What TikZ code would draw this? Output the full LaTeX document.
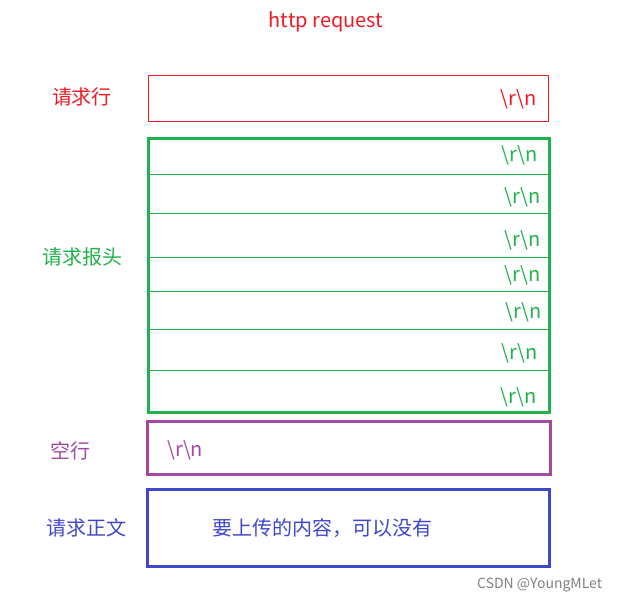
\documentclass[tikz,border=0pt]{standalone}
\usepackage{fontspec}
\setmainfont{Noto Sans CJK SC}
\usetikzlibrary{positioning}
\definecolor{reqred}{RGB}{237,28,36}
\definecolor{hdrgreen}{RGB}{34,177,76}
\definecolor{blankpurple}{RGB}{163,73,164}
\definecolor{bodyblue}{RGB}{63,72,204}
\newcommand\CRLF{\textbackslash r\textbackslash n}
\begin{document}
\begin{tikzpicture}[x=1pt,y=-1pt,
  lbl/.style={font=\fontsize{20}{24}\selectfont,inner sep=0pt},
  crlf/.style={lbl,anchor=east}]
  \useasboundingbox (0,0) rectangle (619,602);
  %
  % Title
  \node[lbl,reqred] (title) at (326,22) {http request};
  %
  % Request line
  \draw[reqred,line width=1pt] (148.5,75.5) rectangle (548.5,121.5);
  \node[lbl,reqred] (linelbl) at (82,97) {请求行};
  \node[crlf,reqred] (linecrlf) at (537,99) {\CRLF};
  %
  % Request headers
  \foreach \ly in {174,213,257,291,329,370}
    \draw[hdrgreen,line width=1pt] (148,\ly) -- (550,\ly);
  \draw[hdrgreen,line width=3pt] (148.5,138.5) rectangle (549.5,412.5);
  \node[lbl,hdrgreen] (hdrlbl) at (82,257) {请求报头};
  \foreach \ty/\tx [count=\i] in {155/538,197/541,240/541,275/541,312/542,353/538,397/537}
    \node[crlf,hdrgreen] (hdr\i) at (\tx,\ty) {\CRLF};
  %
  % Blank line
  \draw[blankpurple,line width=3pt] (147.5,421.5) rectangle (550.5,474.5);
  \node[lbl,blankpurple] (blanklbl) at (70,451) {空行};
  \node[lbl,blankpurple,anchor=west] (blankcrlf) at (167,450) {\CRLF};
  %
  % Request body
  \draw[bodyblue,line width=3pt] (147.5,489.5) rectangle (549.5,566.5);
  \node[lbl,bodyblue] (bodylbl) at (86,528) {请求正文};
  \node[lbl,bodyblue,anchor=west] (bodytext) at (212,528) {要上传的内容，可以没有};
  %
  % Watermark
  \node[inner sep=0pt,anchor=west,gray,font=\fontsize{14}{16}\selectfont] (mark) at (477,585) {CSDN @YoungMLet};
\end{tikzpicture}
\end{document}
